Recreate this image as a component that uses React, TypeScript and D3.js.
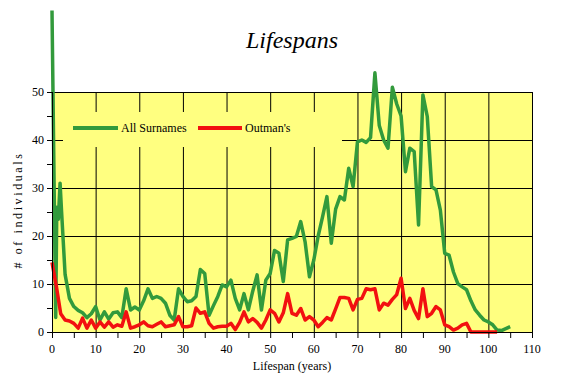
import React from "react";
import * as d3 from "d3";

const W = 568;
const H = 380;

const titleText = "Lifespans";
const xLabel = "Lifespan (years)";
const yLabel = "# of individuals";
const seriesNames = ["All Surnames", "Outman's"];
const seriesColors = ["#329a3c", "#f21010"];

const xTicks = [0, 10, 20, 30, 40, 50, 60, 70, 80, 90, 100, 110];
const yTicks = [0, 10, 20, 30, 40, 50];

const allEarlyAges = [0, 0.85, 1.1, 1.45, 1.85, 2.2];
const allLaterAges = d3.range(3, 106);
const allAges = [...allEarlyAges, ...allLaterAges];
const allCounts = [
  67, 3, 26, 23.5, 31, 25,
  12, 7, 5.3, 4.5, 4, 3, 3.8, 5.3, 2.5, 4.2, 2.7, 4.0, 4.2, 3.0, 9.0, 4.6, 5.2, 4.6,
  6.5, 9.0, 7.0, 7.4, 7.0, 6.0, 3.5, 2.5, 9.0, 7.4, 6.3, 6.5, 7.4, 13.0, 12.2, 3.5,
  5.5, 7.4, 9.8, 9.4, 10.8, 7.0, 4.6, 8.0, 4.6, 8.5, 11.9, 4.6, 10.8, 12.2, 17.0,
  16.4, 10.5, 19.2, 19.5, 19.9, 23.0, 18.8, 11.5, 15.0, 20, 24.0, 28.2, 18.5, 25.6,
  28.2, 27.5, 34.1, 30.3, 39.6, 40, 39.5, 40.5, 54, 43, 40, 38.3, 51, 47.5, 45,
  33.4, 38.3, 37.6, 22.3, 49.4, 44.9, 30.3, 29.6, 25.4, 16.4, 16.0, 12.5, 10.1, 9.4,
  8.8, 6.5, 4.6, 3.5, 2.5, 2.1, 1.5, 0.4, 0.3, 0.7, 1.1,
];

const outAges = d3.range(0, 103);
const outCounts = [
  14.5, 9.5, 3.8, 2.5, 2.3, 1.8, 0.8, 2.9, 0.8, 2.5,
  0.8, 2.1, 1.0, 2.1, 1.0, 1.5, 1.2, 4.2, 0.8, 1.1,
  1.5, 2.1, 1.3, 1.1, 1.6, 2.1, 1.1, 1.3, 1.5, 3.2,
  1.1, 1.1, 1.3, 5.0, 3.9, 4.2, 1.8, 0.8, 1.1, 1.2,
  1.2, 1.8, 0.5, 2.0, 4.2, 2.1, 2.8, 2.0, 0.8, 2.5,
  4.6, 3.9, 2.1, 4.0, 8.0, 3.9, 3.5, 4.9, 2.5, 3.2,
  2.5, 1.1, 2.0, 3.0, 2.5, 4.8, 7.2, 7.2, 7.0, 4.6,
  6.8, 7.0, 9.0, 8.8, 9.0, 4.6, 6.0, 5.6, 6.8, 7.8,
  11.2, 4.9, 7.0, 4.5, 2.8, 9.0, 3.2, 3.9, 5.3, 4.6,
  1.5, 1.1, 0.4, 0.8, 1.5, 1.8, 0, 0, 0, 0,
  0, 0, 0,
];

const FONT = "'Liberation Serif', 'Times New Roman', serif";

export default function App() {
  const x = d3.scaleLinear().domain([0, 110]).range([52, 532]);
  const y = d3.scaleLinear().domain([0, 50]).range([332, 92]);
  const line = d3
    .line<[number, number]>()
    .x((d) => x(d[0]))
    .y((d) => y(d[1]));

  const allPts: [number, number][] = allAges.map((a, i) => [a, allCounts[i]]);
  const outPts: [number, number][] = outAges.map((a, i) => [a, outCounts[i]]);

  const minorX = d3.range(0, 111, 5);
  const minorY = d3.range(0, 51, 5);

  const lgX0 = 63, lgX1 = 342, lgY0 = 112, lgY1 = 147, lgY = 128;

  return (
    <svg
      width={W}
      height={H}
      style={{ position: "fixed", left: 0, top: 0, background: "#fff" }}
      fontFamily={FONT}
    >
      <rect x={0} y={0} width={W} height={H} fill="#fff" />
      <text x={292} y={48} textAnchor="middle" fontSize={24} fontStyle="italic">
        {titleText}
      </text>
      <rect x={x(0)} y={y(50)} width={x(110) - x(0)} height={y(0) - y(50)} fill="#ffff80" />
      {yTicks.slice(1).map((t) => (
        <line key={"gy" + t} x1={x(0)} x2={x(110)} y1={y(t) + 0.5} y2={y(t) + 0.5} stroke="#000" strokeWidth={1} />
      ))}
      {xTicks.slice(1).map((t) => (
        <line key={"gx" + t} x1={x(t) + 0.5} x2={x(t) + 0.5} y1={y(50)} y2={y(0)} stroke="#000" strokeWidth={1} />
      ))}
      <rect x={lgX0} y={lgY0} width={lgX1 - lgX0} height={lgY1 - lgY0} fill="#ffff80" />
      <line x1={73} x2={118} y1={lgY} y2={lgY} stroke={seriesColors[0]} strokeWidth={4} />
      <text x={121} y={lgY + 4} fontSize={12}>{seriesNames[0]}</text>
      <line x1={198} x2={242} y1={lgY} y2={lgY} stroke={seriesColors[1]} strokeWidth={4} />
      <text x={245} y={lgY + 4} fontSize={12}>{seriesNames[1]}</text>
      <path d={line(allPts) || ""} fill="none" stroke={seriesColors[0]} strokeWidth={3.5} strokeLinejoin="round" />
      <path d={line(outPts) || ""} fill="none" stroke={seriesColors[1]} strokeWidth={3.5} strokeLinejoin="round" />
      <line x1={x(0) + 0.5} x2={x(0) + 0.5} y1={y(50)} y2={y(0) + 1} stroke="#000" />
      <line x1={x(0)} x2={x(110) + 1} y1={y(0) + 0.5} y2={y(0) + 0.5} stroke="#000" />
      {minorY.map((t) => (
        <line key={"ty" + t} x1={x(0) - 5} x2={x(0)} y1={y(t) + 0.5} y2={y(t) + 0.5} stroke="#000" />
      ))}
      {minorX.map((t) => (
        <line key={"tx" + t} x1={x(t) + 0.5} x2={x(t) + 0.5} y1={y(0)} y2={y(0) + 6} stroke="#000" />
      ))}
      {yTicks.map((t) => (
        <text key={"ly" + t} x={44} y={y(t) + 4} textAnchor="end" fontSize={12}>{t}</text>
      ))}
      {xTicks.map((t) => (
        <text key={"lx" + t} x={x(t)} y={353} textAnchor="middle" fontSize={12}>{t}</text>
      ))}
      <text x={292} y={370} textAnchor="middle" fontSize={12}>{xLabel}</text>
      <text
        transform={`translate(22,210) rotate(-90)`}
        textAnchor="middle"
        fontSize={12}
        letterSpacing={2.6}
      >
        {yLabel}
      </text>
    </svg>
  );
}
